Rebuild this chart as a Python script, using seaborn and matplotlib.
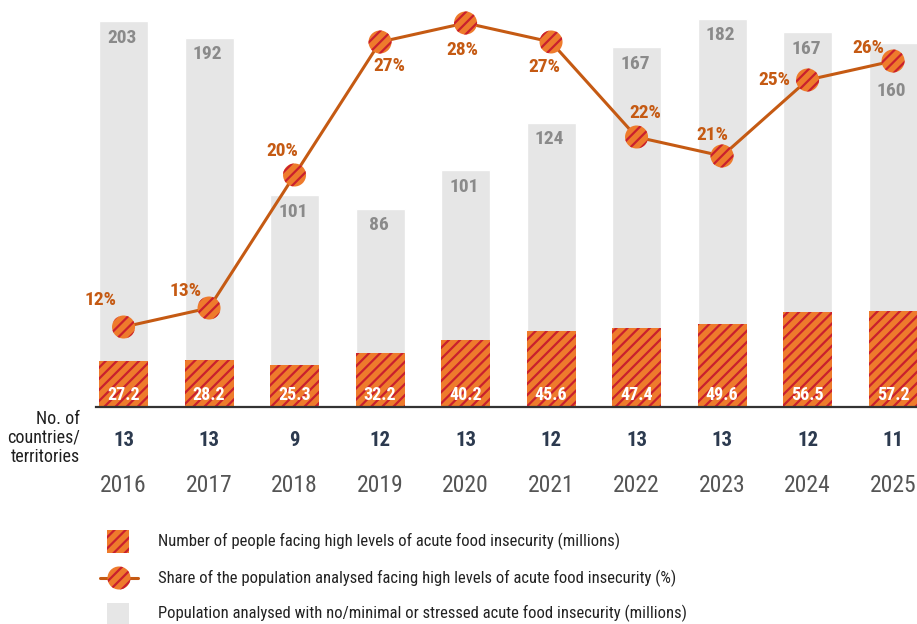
import numpy as np
import pandas as pd
import matplotlib
matplotlib.use("Agg")
import matplotlib.pyplot as plt
import matplotlib.transforms as mtransforms
from matplotlib.patches import Rectangle
from matplotlib.lines import Line2D
import seaborn as sns

# ---- data -------------------------------------------------------------
years = ["2016", "2017", "2018", "2019", "2020", "2021", "2022", "2023", "2024", "2025"]
high_insecurity = [27.2, 28.2, 25.3, 32.2, 40.2, 45.6, 47.4, 49.6, 56.5, 57.2]   # millions
no_minimal_stressed = [203, 192, 101, 86, 101, 124, 167, 182, 167, 160]           # millions
share_pct = [12, 13, 20, 27, 28, 27, 22, 21, 25, 26]                              # %
n_countries = [13, 13, 9, 12, 13, 12, 13, 13, 12, 11]

# ---- style ------------------------------------------------------------
sns.set_theme(style="white")
plt.rcParams["font.family"] = ["Roboto Condensed", "DejaVu Sans"]
plt.rcParams["font.stretch"] = "condensed"
plt.rcParams["hatch.linewidth"] = 1.6

ORANGE = "#EE7B2C"
RED = "#C9202E"
LINE = "#C55A13"
GREY_BAR = "#E6E6E6"
GREY_TXT = "#8A8A8A"
NAVY = "#2C3A4F"

W, H = 917, 624
fig = plt.figure(figsize=(W / 100, H / 100), dpi=100)
ax = fig.add_axes([96 / W, 1 - 407 / H, 1 - 96 / W, 407 / H])

df = pd.DataFrame({
    "year": years,
    "high": high_insecurity,
    "rest": no_minimal_stressed,
    "total": np.array(high_insecurity) + np.array(no_minimal_stressed),
    "share": share_pct,
    "countries": n_countries,
})

# stacked bars: full height in grey, hatched acute-insecurity part on top of it
sns.barplot(data=df, x="year", y="total", color=GREY_BAR, saturation=1,
            width=0.573, ax=ax, zorder=1)
n_grey = len(ax.patches)
sns.barplot(data=df, x="year", y="high", color=ORANGE, saturation=1,
            width=0.573, ax=ax, zorder=2)
for p in ax.patches[n_grey:]:
    p.set_hatch("///")
    p.set_edgecolor(RED)
    p.set_linewidth(0)
    p.set_facecolor(ORANGE)

ax.set_xlim(-0.322, 9.28)
ax.set_ylim(0, 242.7)
ax.set_xlabel("")
ax.set_ylabel("")
ax.set_yticks([])
for s in ["top", "left", "right"]:
    ax.spines[s].set_visible(False)
ax.spines["bottom"].set_color("#333333")
ax.spines["bottom"].set_linewidth(1.6)
ax.spines["bottom"].set_zorder(5)
ax.tick_params(axis="x", length=0, pad=48, labelsize=17, labelcolor="#555555")

xs = np.arange(len(years))

# value labels
for i, row in df.iterrows():
    ax.annotate(f"{row['high']:.1f}", (i, 0), xytext=(0, 5), textcoords="offset points",
                ha="center", va="baseline", color="white", fontsize=13,
                fontweight="bold", zorder=6)
    drop = -28 if i == len(df) - 1 else -5.5
    ax.annotate(f"{row['rest']}", (i, row["total"]), xytext=(-1, drop),
                textcoords="offset points", ha="center", va="top",
                color=GREY_TXT, fontsize=14, fontweight="bold", zorder=3)

# share line on a secondary axis
ax2 = ax.twinx()
ax2.set_ylim(7.79, 29.21)
ax2.set_axis_off()
sns.lineplot(x=xs, y=df["share"], color=LINE, linewidth=2.2, ax=ax2, zorder=4)
ax2.scatter(xs, df["share"], s=275, facecolor=ORANGE, edgecolor=RED, linewidth=0,
            hatch="///", zorder=5, clip_on=False)

pct_offsets = [(-16.6, 19.4), (-16.6, 12.2), (-8.6, 17.3), (6.5, -17.3), (-2.2, -19.4),
               (-5, -18), (6.5, 17.3), (-7.2, 15.1), (-23.8, 0), (-18, 9.4)]
for i, (v, off) in enumerate(zip(df["share"], pct_offsets)):
    ax2.annotate(f"{v}%", (i, v), xytext=off, textcoords="offset points",
                 ha="center", va="center", color=LINE, fontsize=14,
                 fontweight="bold", zorder=6)

# number of countries row
trans = mtransforms.blended_transform_factory(ax.transData, fig.transFigure)
for i, n in enumerate(n_countries):
    fig.text(i, 1 - 440 / H, str(n), transform=trans, ha="center", va="center",
             fontsize=15, fontweight="bold", color=NAVY)
fig.text(80 / W, 1 - 438 / H, "No. of\ncountries/\nterritories", ha="right", va="center",
         fontsize=13, color="#1F1F1F", linespacing=1.05)

# legend
lay = fig.add_axes([0, 0, 1, 1], zorder=-1)
lay.set_xlim(0, W)
lay.set_ylim(H, 0)
lay.set_axis_off()
lay.add_patch(Rectangle((107, 530), 22, 23, facecolor=ORANGE, edgecolor=RED,
                        linewidth=0, hatch="///"))
lay.add_line(Line2D([100, 138], [578, 578], color=LINE, linewidth=2.2))
lay.scatter([119], [578], s=275, facecolor=ORANGE, edgecolor=RED, linewidth=0,
            hatch="///", zorder=3)
lay.add_patch(Rectangle((107, 603), 22, 21, facecolor=GREY_BAR, linewidth=0))
legend_texts = [
    "Number of people facing high levels of acute food insecurity (millions)",
    "Share of the population analysed facing high levels of acute food insecurity (%)",
    "Population analysed with no/minimal or stressed acute food insecurity (millions)",
]
for ty, t in zip([541, 578, 613], legend_texts):
    lay.text(158, ty, t, ha="left", va="center", fontsize=12, color="#222222")

fig.savefig("out.png", dpi=100)
